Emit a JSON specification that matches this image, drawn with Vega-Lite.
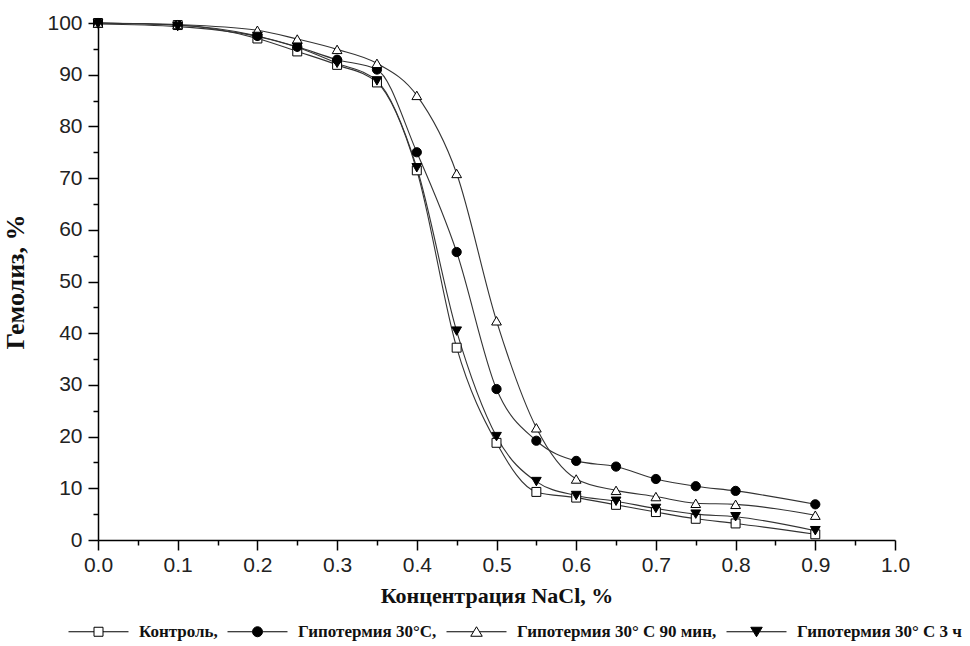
{
  "$schema": "https://vega.github.io/schema/vega-lite/v6.json",
  "autosize": {"type": "none"},
  "width": 797,
  "height": 517,
  "padding": {"left": 98, "top": 23, "right": 75, "bottom": 106},
  "background": "white",
  "config": {
    "view": {"stroke": null},
    "axis": {"grid": false, "domainColor": "black", "domainWidth": 1.5, "tickColor": "black", "tickWidth": 1.5, "labelFont": "Liberation Sans", "labelFontSize": 21, "labelColor": "#222", "titleFont": "Liberation Serif", "titleFontWeight": "bold", "titleColor": "#111", "labelFlush": false}
  },
  "datasets": {
    "pts": [
    {"x":0,"y":100,"g":"Контроль,"},{"x":0.1,"y":99.6,"g":"Контроль,"},{"x":0.2,"y":97,"g":"Контроль,"},{"x":0.25,"y":94.5,"g":"Контроль,"},{"x":0.3,"y":91.9,"g":"Контроль,"},{"x":0.35,"y":88.5,"g":"Контроль,"},{"x":0.4,"y":71.5,"g":"Контроль,"},{"x":0.45,"y":37.2,"g":"Контроль,"},{"x":0.5,"y":18.8,"g":"Контроль,"},{"x":0.55,"y":9.3,"g":"Контроль,"},{"x":0.6,"y":8.2,"g":"Контроль,"},{"x":0.65,"y":6.8,"g":"Контроль,"},{"x":0.7,"y":5.4,"g":"Контроль,"},{"x":0.75,"y":4.1,"g":"Контроль,"},{"x":0.8,"y":3.2,"g":"Контроль,"},{"x":0.9,"y":1.1,"g":"Контроль,"},
    {"x":0,"y":100,"g":"Гипотермия 30°С,"},{"x":0.1,"y":99.6,"g":"Гипотермия 30°С,"},{"x":0.2,"y":97.5,"g":"Гипотермия 30°С,"},{"x":0.25,"y":95.4,"g":"Гипотермия 30°С,"},{"x":0.3,"y":92.9,"g":"Гипотермия 30°С,"},{"x":0.35,"y":91,"g":"Гипотермия 30°С,"},{"x":0.4,"y":75,"g":"Гипотермия 30°С,"},{"x":0.45,"y":55.7,"g":"Гипотермия 30°С,"},{"x":0.5,"y":29.2,"g":"Гипотермия 30°С,"},{"x":0.55,"y":19.2,"g":"Гипотермия 30°С,"},{"x":0.6,"y":15.3,"g":"Гипотермия 30°С,"},{"x":0.65,"y":14.2,"g":"Гипотермия 30°С,"},{"x":0.7,"y":11.8,"g":"Гипотермия 30°С,"},{"x":0.75,"y":10.4,"g":"Гипотермия 30°С,"},{"x":0.8,"y":9.5,"g":"Гипотермия 30°С,"},{"x":0.9,"y":6.9,"g":"Гипотермия 30°С,"},
    {"x":0,"y":100,"g":"Гипотермия 30° С 90 мин,"},{"x":0.1,"y":99.7,"g":"Гипотермия 30° С 90 мин,"},{"x":0.2,"y":98.6,"g":"Гипотермия 30° С 90 мин,"},{"x":0.25,"y":96.9,"g":"Гипотермия 30° С 90 мин,"},{"x":0.3,"y":94.9,"g":"Гипотермия 30° С 90 мин,"},{"x":0.35,"y":92.2,"g":"Гипотермия 30° С 90 мин,"},{"x":0.4,"y":86,"g":"Гипотермия 30° С 90 мин,"},{"x":0.45,"y":70.9,"g":"Гипотермия 30° С 90 мин,"},{"x":0.5,"y":42.4,"g":"Гипотермия 30° С 90 мин,"},{"x":0.55,"y":21.7,"g":"Гипотермия 30° С 90 мин,"},{"x":0.6,"y":11.8,"g":"Гипотермия 30° С 90 мин,"},{"x":0.65,"y":9.6,"g":"Гипотермия 30° С 90 мин,"},{"x":0.7,"y":8.4,"g":"Гипотермия 30° С 90 мин,"},{"x":0.75,"y":7.1,"g":"Гипотермия 30° С 90 мин,"},{"x":0.8,"y":6.9,"g":"Гипотермия 30° С 90 мин,"},{"x":0.9,"y":4.8,"g":"Гипотермия 30° С 90 мин,"},
    {"x":0,"y":99.8,"g":"Гипотермия 30° С 3 ч"},{"x":0.1,"y":99.3,"g":"Гипотермия 30° С 3 ч"},{"x":0.2,"y":97.4,"g":"Гипотермия 30° С 3 ч"},{"x":0.25,"y":95.3,"g":"Гипотермия 30° С 3 ч"},{"x":0.3,"y":92.2,"g":"Гипотермия 30° С 3 ч"},{"x":0.35,"y":88.8,"g":"Гипотермия 30° С 3 ч"},{"x":0.4,"y":72,"g":"Гипотермия 30° С 3 ч"},{"x":0.45,"y":40.4,"g":"Гипотермия 30° С 3 ч"},{"x":0.5,"y":20,"g":"Гипотермия 30° С 3 ч"},{"x":0.55,"y":11.3,"g":"Гипотермия 30° С 3 ч"},{"x":0.6,"y":8.6,"g":"Гипотермия 30° С 3 ч"},{"x":0.65,"y":7.5,"g":"Гипотермия 30° С 3 ч"},{"x":0.7,"y":6.1,"g":"Гипотермия 30° С 3 ч"},{"x":0.75,"y":5,"g":"Гипотермия 30° С 3 ч"},{"x":0.8,"y":4.5,"g":"Гипотермия 30° С 3 ч"},{"x":0.9,"y":1.8,"g":"Гипотермия 30° С 3 ч"}
    ],
    "leg": [
      {"leg": "Контроль,"}, {"leg": "Гипотермия 30°С,"}, {"leg": "Гипотермия 30° С 90 мин,"}, {"leg": "Гипотермия 30° С 3 ч"}
    ]
  },
  "data": {"name": "pts"},
  "encoding": {
    "x": {"field": "x", "type": "quantitative",
      "scale": {"domain": [0, 1], "nice": false, "zero": false},
      "axis": {
        "title": "Концентрация NaCl, %", "titleFontSize": 22, "titlePadding": 10,
        "values": [0,0.05,0.1,0.15,0.2,0.25,0.3,0.35,0.4,0.45,0.5,0.55,0.6,0.65,0.7,0.75,0.8,0.85,0.9,0.95,1.0],
        "labelExpr": "round(datum.value*100) % 10 == 0 ? format(datum.value, '.1f') : ''",
        "tickSize": {"condition": {"test": "round(datum.value*100) % 10 == 0", "value": 10}, "value": 5},
        "labelPadding": 4, "labelOverlap": false
      }},
    "y": {"field": "y", "type": "quantitative",
      "scale": {"domain": [0, 100], "nice": false},
      "axis": {
        "title": "Гемолиз, %", "titleFontSize": 26, "titleX": -70,
        "values": [0,5,10,15,20,25,30,35,40,45,50,55,60,65,70,75,80,85,90,95,100],
        "labelExpr": "datum.value % 10 == 0 ? datum.value : ''",
        "tickSize": {"condition": {"test": "datum.value % 10 == 0", "value": 10}, "value": 5},
        "labelPadding": 6, "labelOverlap": false
      }}
  },
  "layer": [
    {
      "mark": {"type": "line", "interpolate": "monotone", "color": "#333", "strokeWidth": 1.1},
      "encoding": {"detail": {"field": "g"}}
    },
    {
      "transform": [{"filter": "datum.g == 'Контроль,'"}],
      "mark": {"type": "point", "shape": "square", "filled": true, "fill": "white", "stroke": "black", "strokeWidth": 1, "size": 80, "opacity": 1}
    },
    {
      "transform": [{"filter": "datum.g == 'Гипотермия 30°С,'"}],
      "mark": {"type": "point", "shape": "circle", "filled": true, "fill": "black", "stroke": "black", "strokeWidth": 1, "size": 85, "opacity": 1}
    },
    {
      "transform": [{"filter": "datum.g == 'Гипотермия 30° С 90 мин,'"}],
      "mark": {"type": "point", "shape": "triangle-up", "filled": true, "fill": "white", "stroke": "black", "strokeWidth": 1, "size": 95, "opacity": 1}
    },
    {
      "transform": [{"filter": "datum.g == 'Гипотермия 30° С 3 ч'"}],
      "mark": {"type": "point", "shape": "triangle-down", "filled": true, "fill": "black", "stroke": "black", "strokeWidth": 1, "size": 95, "opacity": 1}
    },
    {
      "data": {"name": "leg"},
      "mark": {"type": "point", "filled": true, "stroke": "black", "strokeWidth": 1, "size": 100},
      "encoding": {
        "shape": {"field": "leg", "type": "nominal",
          "scale": {"domain": ["Контроль,", "Гипотермия 30°С,", "Гипотермия 30° С 90 мин,", "Гипотермия 30° С 3 ч"],
            "range": ["M-6,0H-0.9M0.9,0H6M-0.9,-0.9H0.9V0.9H-0.9Z", "M-6,0H-1M1,0H6M1,0A1,1,0,1,1,-1,0A1,1,0,1,1,1,0Z", "M-6,0H-0.6M0.6,0H6M0,-1L1.15,0.9H-1.15Z", "M-6,0H-0.6M0.6,0H6M0,1L1.15,-0.9H-1.15Z"]},
          "legend": {"orient": "none", "legendX": -8, "legendY": 600, "direction": "horizontal", "title": null,
            "labelFont": "Liberation Serif", "labelFontWeight": "bold", "labelFontSize": 17, "labelColor": "#111",
            "symbolSize": 100, "symbolStrokeColor": "black", "symbolStrokeWidth": 1, "symbolOpacity": 1,
            "labelOffset": 32, "columnPadding": 7, "labelLimit": 400,
            "encode": {"symbols": {"update": {"stroke": {"value": "black"}, "strokeWidth": {"value": 1}, "opacity": {"value": 1}}}}}},
        "fill": {"field": "leg", "type": "nominal",
          "scale": {"domain": ["Контроль,", "Гипотермия 30°С,", "Гипотермия 30° С 90 мин,", "Гипотермия 30° С 3 ч"], "range": ["white", "black", "white", "black"]},
          "legend": {"orient": "none", "legendX": -8, "legendY": 600, "direction": "horizontal", "title": null,
            "labelFont": "Liberation Serif", "labelFontWeight": "bold", "labelFontSize": 17, "labelColor": "#111",
            "symbolSize": 100, "symbolStrokeColor": "black", "symbolStrokeWidth": 1, "symbolOpacity": 1,
            "labelOffset": 32, "columnPadding": 7, "labelLimit": 400,
            "encode": {"symbols": {"update": {"stroke": {"value": "black"}, "strokeWidth": {"value": 1}, "opacity": {"value": 1}}}}}}
      }
    }
  ]
}
